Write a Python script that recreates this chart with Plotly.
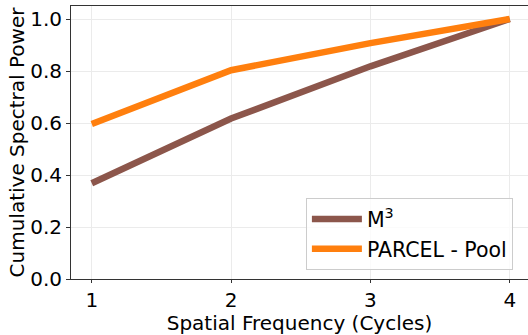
import plotly.graph_objects as go

freq = [1, 2, 3, 4]
m3_values = [0.368, 0.617, 0.818, 1.0]
parcel_values = [0.596, 0.803, 0.907, 1.0]
series_names = ["M<sup>3</sup>", "PARCEL - Pool"]
series_colors = ["#8c564b", "#ff7f0e"]

fig = go.Figure()
for name, vals, col in zip(series_names, [m3_values, parcel_values], series_colors):
    fig.add_trace(go.Scatter(x=freq, y=vals, mode="lines", name=name,
                             line=dict(color=col, width=6.5)))

font = "DejaVu Sans"
fs = 20
fig.update_layout(
    width=528, height=335,
    margin=dict(l=71, r=0, t=6, b=56, pad=0),
    paper_bgcolor="white", plot_bgcolor="white",
    font=dict(family=font, size=fs, color="black"),
    showlegend=True,
    legend=dict(x=0.514, y=0.032, xanchor="left", yanchor="bottom",
                bgcolor="rgba(255,255,255,0.8)", bordercolor="#cccccc", borderwidth=1,
                itemwidth=50,
                font=dict(family=font, size=20.5, color="black")),
    xaxis=dict(range=[0.851, 4.131], tickvals=freq, ticktext=["1", "2", "3", "4"],
               showgrid=True, gridcolor="#ebebeb", gridwidth=1,
               showline=True, linecolor="#333333", linewidth=1, mirror=True,
               ticks="outside", ticklen=3, tickcolor="#333333",
               zeroline=False, automargin=False,
               title=dict(text="Spatial Frequency (Cycles)", standoff=0,
                          font=dict(family=font, size=fs))),
    yaxis=dict(range=[0, 1.05], tickvals=[0, 0.2, 0.4, 0.6, 0.8, 1.0], tickformat=".1f",
               showgrid=True, gridcolor="#ebebeb", gridwidth=1,
               showline=True, linecolor="#333333", linewidth=1,
               ticks="outside", ticklen=4, tickcolor="#333333",
               zeroline=False, automargin=False,
               title=dict(text="Cumulative Spectral Power", standoff=0,
                          font=dict(family=font, size=fs))),
)
fig.write_html("out.html", config={"displayModeBar": False},
               post_script="document.body.style.margin='0';")
